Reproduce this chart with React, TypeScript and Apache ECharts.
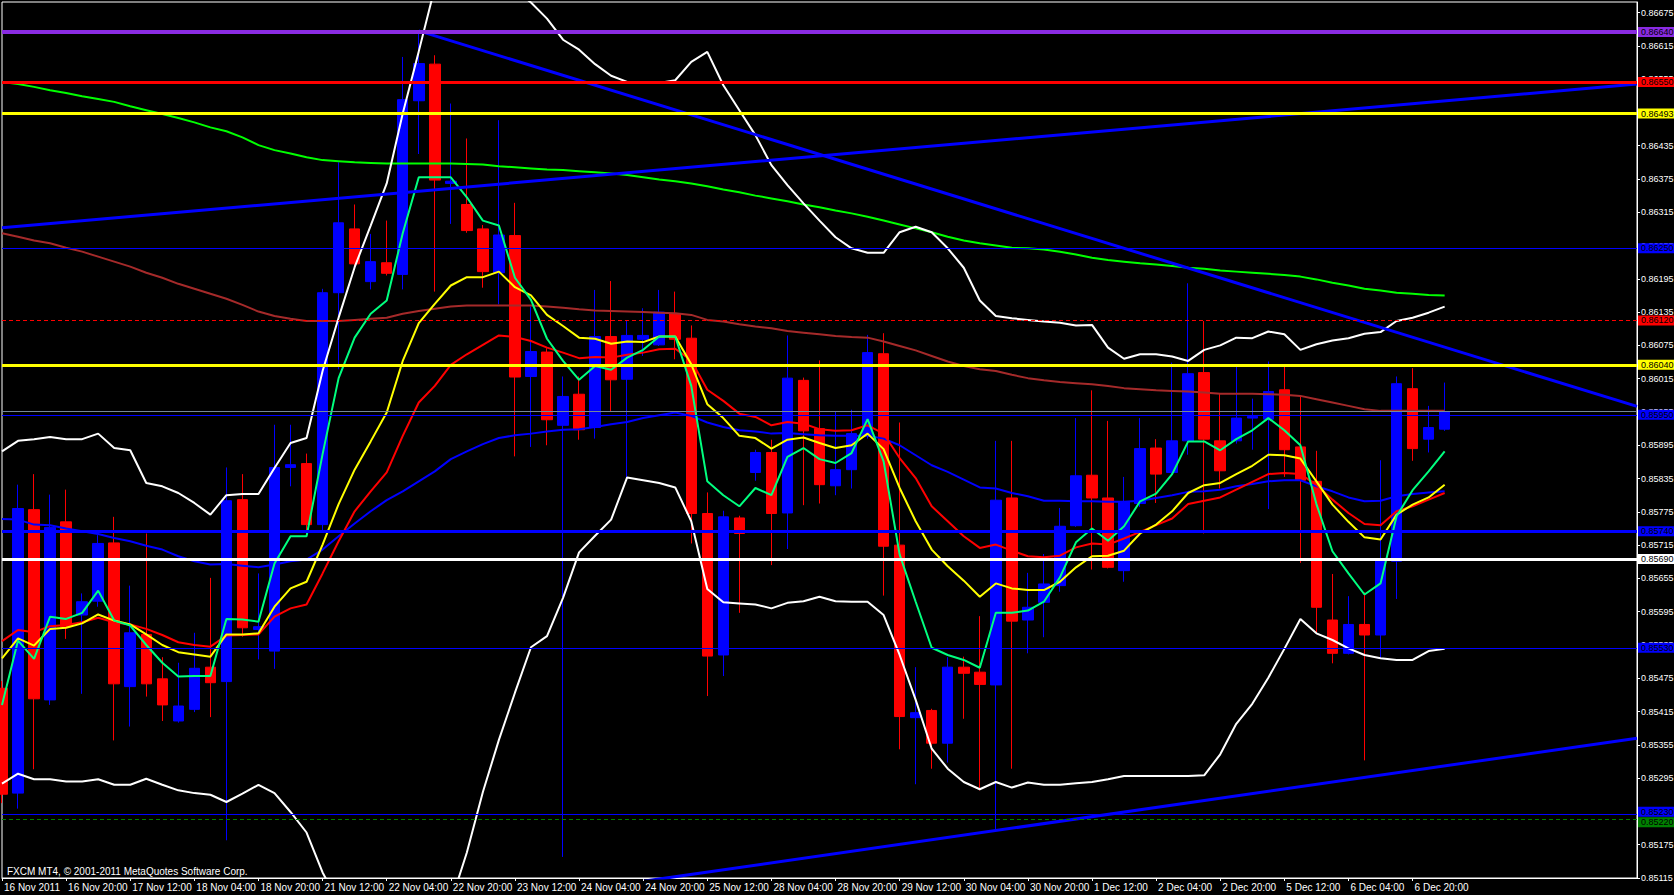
import React, { useEffect, useRef } from 'react';
import * as echarts from 'echarts';

// ---------- data ----------
const xTickLabels = ['16 Nov 2011', '16 Nov 20:00', '17 Nov 12:00', '18 Nov 04:00', '18 Nov 20:00', '21 Nov 12:00', '22 Nov 04:00', '22 Nov 20:00', '23 Nov 12:00', '24 Nov 04:00', '24 Nov 20:00', '25 Nov 12:00', '28 Nov 04:00', '28 Nov 20:00', '29 Nov 12:00', '30 Nov 04:00', '30 Nov 20:00', '1 Dec 12:00', '2 Dec 04:00', '2 Dec 20:00', '5 Dec 12:00', '6 Dec 04:00', '6 Dec 20:00'];
const barsPerLabel = 4;
const totalSlots = 103;

const opens = [0.85457, 0.85268, 0.85779, 0.85436, 0.85757, 0.85589, 0.85614, 0.85719, 0.85460, 0.85554, 0.85474, 0.85398, 0.85419, 0.85495, 0.85469, 0.85797, 0.85563, 0.85524, 0.85855, 0.85862, 0.85752, 0.86170, 0.86285, 0.86190, 0.86224, 0.86203, 0.86516, 0.86582, 0.86367, 0.86329, 0.86285, 0.86206, 0.86273, 0.86019, 0.86063, 0.85931, 0.85987, 0.85927, 0.86091, 0.86014, 0.86086, 0.86076, 0.86132, 0.86088, 0.85772, 0.85517, 0.85764, 0.85846, 0.85882, 0.85773, 0.86012, 0.85925, 0.85822, 0.85851, 0.85913, 0.86060, 0.85715, 0.85404, 0.85417, 0.85358, 0.85495, 0.85486, 0.85463, 0.85800, 0.85580, 0.85612, 0.85642, 0.85750, 0.85841, 0.85800, 0.85669, 0.85790, 0.85890, 0.85846, 0.85903, 0.86026, 0.85903, 0.85903, 0.85944, 0.85942, 0.85995, 0.85892, 0.85830, 0.85580, 0.85520, 0.85572, 0.85553, 0.85686, 0.85997, 0.85906, 0.85924];
const closes = [0.85266, 0.85781, 0.85438, 0.85747, 0.85568, 0.85613, 0.85718, 0.85465, 0.85557, 0.85465, 0.85427, 0.85425, 0.85493, 0.85467, 0.85795, 0.85566, 0.85568, 0.85855, 0.85860, 0.85752, 0.86170, 0.86296, 0.86222, 0.86226, 0.86205, 0.86518, 0.86583, 0.86373, 0.86371, 0.86282, 0.86208, 0.86274, 0.86018, 0.86064, 0.85941, 0.85983, 0.85923, 0.86091, 0.86013, 0.86093, 0.86093, 0.86135, 0.86086, 0.85772, 0.85515, 0.85766, 0.85736, 0.85882, 0.85772, 0.86016, 0.85921, 0.85824, 0.85851, 0.85916, 0.86062, 0.85713, 0.85406, 0.85413, 0.85358, 0.85495, 0.85484, 0.85464, 0.85796, 0.85578, 0.85603, 0.85645, 0.85749, 0.85840, 0.85800, 0.85675, 0.85793, 0.85889, 0.85843, 0.85903, 0.86024, 0.85906, 0.85849, 0.85944, 0.85947, 0.85992, 0.85887, 0.85832, 0.85603, 0.85520, 0.85572, 0.85553, 0.85687, 0.86006, 0.85889, 0.85927, 0.85956];
const lows = [0.85250, 0.85240, 0.85311, 0.85427, 0.85546, 0.85447, 0.85604, 0.85363, 0.85388, 0.85442, 0.85398, 0.85395, 0.85414, 0.85405, 0.85183, 0.85550, 0.85509, 0.85492, 0.85821, 0.85732, 0.85740, 0.86032, 0.86218, 0.86176, 0.86201, 0.86176, 0.86420, 0.86172, 0.86294, 0.86278, 0.86179, 0.86149, 0.85875, 0.85892, 0.85895, 0.85153, 0.85905, 0.85907, 0.85956, 0.85836, 0.86056, 0.86074, 0.86050, 0.85718, 0.85443, 0.85479, 0.85593, 0.85831, 0.85679, 0.85708, 0.85787, 0.85790, 0.85805, 0.85817, 0.85907, 0.85624, 0.85347, 0.85284, 0.85312, 0.85323, 0.85402, 0.85273, 0.85202, 0.85312, 0.85520, 0.85549, 0.85631, 0.85748, 0.85671, 0.85673, 0.85649, 0.85784, 0.85791, 0.85842, 0.85878, 0.85736, 0.85817, 0.85898, 0.85887, 0.85780, 0.85838, 0.85683, 0.85558, 0.85502, 0.85518, 0.85327, 0.85510, 0.85618, 0.85867, 0.85882, 0.85921];
const highs = [0.85470, 0.85824, 0.85843, 0.85806, 0.85815, 0.85628, 0.85733, 0.85766, 0.85642, 0.85736, 0.85513, 0.85503, 0.85557, 0.85656, 0.85855, 0.85843, 0.85664, 0.85932, 0.85932, 0.85880, 0.86177, 0.86405, 0.86329, 0.86276, 0.86300, 0.86595, 0.86640, 0.86598, 0.86511, 0.86448, 0.86292, 0.86481, 0.86332, 0.86145, 0.86070, 0.86019, 0.86019, 0.86175, 0.86191, 0.86120, 0.86142, 0.86175, 0.86172, 0.86111, 0.85810, 0.85777, 0.85768, 0.85887, 0.85905, 0.86093, 0.86017, 0.86048, 0.85956, 0.85959, 0.86094, 0.86097, 0.85936, 0.85495, 0.85420, 0.85513, 0.85514, 0.85587, 0.85903, 0.85903, 0.85665, 0.85699, 0.85782, 0.85944, 0.85994, 0.85939, 0.85838, 0.85944, 0.85906, 0.86044, 0.86187, 0.86119, 0.85988, 0.86037, 0.85979, 0.86046, 0.86037, 0.85983, 0.85885, 0.85663, 0.85623, 0.85630, 0.85868, 0.86019, 0.86034, 0.85966, 0.86008];

const maFast = [0.85427, 0.85543, 0.85510, 0.85586, 0.85582, 0.85593, 0.85633, 0.85579, 0.85570, 0.85535, 0.85503, 0.85478, 0.85479, 0.85479, 0.85582, 0.85581, 0.85577, 0.85682, 0.85731, 0.85731, 0.85879, 0.86016, 0.86089, 0.86132, 0.86156, 0.86277, 0.86378, 0.86378, 0.86378, 0.86342, 0.86300, 0.86291, 0.86197, 0.86157, 0.86087, 0.86047, 0.86013, 0.86038, 0.86031, 0.86053, 0.86067, 0.86091, 0.86091, 0.86002, 0.85830, 0.85805, 0.85785, 0.85818, 0.85805, 0.85874, 0.85890, 0.85870, 0.85863, 0.85881, 0.85942, 0.85866, 0.85698, 0.85613, 0.85530, 0.85517, 0.85508, 0.85494, 0.85593, 0.85593, 0.85597, 0.85613, 0.85657, 0.85720, 0.85745, 0.85723, 0.85749, 0.85794, 0.85808, 0.85843, 0.85902, 0.85902, 0.85886, 0.85906, 0.85922, 0.85944, 0.85922, 0.85895, 0.85789, 0.85704, 0.85664, 0.85626, 0.85646, 0.85767, 0.85814, 0.85848, 0.85884];
const maYellow = [0.85511, 0.85547, 0.85534, 0.85564, 0.85566, 0.85574, 0.85590, 0.85579, 0.85572, 0.85554, 0.85535, 0.85522, 0.85518, 0.85514, 0.85554, 0.85554, 0.85556, 0.85604, 0.85637, 0.85649, 0.85716, 0.85789, 0.85851, 0.85902, 0.85954, 0.86047, 0.86115, 0.86150, 0.86183, 0.86198, 0.86198, 0.86208, 0.86180, 0.86165, 0.86130, 0.86110, 0.86089, 0.86087, 0.86078, 0.86082, 0.86081, 0.86091, 0.86091, 0.86041, 0.85969, 0.85944, 0.85912, 0.85908, 0.85889, 0.85905, 0.85909, 0.85899, 0.85890, 0.85895, 0.85916, 0.85888, 0.85818, 0.85758, 0.85707, 0.85677, 0.85651, 0.85622, 0.85646, 0.85637, 0.85634, 0.85634, 0.85649, 0.85675, 0.85695, 0.85696, 0.85705, 0.85736, 0.85752, 0.85776, 0.85809, 0.85823, 0.85827, 0.85843, 0.85858, 0.85878, 0.85877, 0.85871, 0.85830, 0.85788, 0.85757, 0.85729, 0.85725, 0.85770, 0.85788, 0.85801, 0.85824];
const maRed = [0.85542, 0.85562, 0.85558, 0.85569, 0.85571, 0.85576, 0.85584, 0.85576, 0.85572, 0.85564, 0.85553, 0.85540, 0.85535, 0.85532, 0.85552, 0.85553, 0.85554, 0.85586, 0.85601, 0.85608, 0.85664, 0.85722, 0.85776, 0.85812, 0.85846, 0.85912, 0.85972, 0.86002, 0.86040, 0.86059, 0.86076, 0.86093, 0.86090, 0.86083, 0.86071, 0.86062, 0.86052, 0.86054, 0.86053, 0.86058, 0.86062, 0.86068, 0.86069, 0.86048, 0.85995, 0.85975, 0.85952, 0.85946, 0.85931, 0.85937, 0.85934, 0.85924, 0.85921, 0.85922, 0.85931, 0.85916, 0.85872, 0.85836, 0.85785, 0.85758, 0.85731, 0.85710, 0.85716, 0.85705, 0.85695, 0.85693, 0.85696, 0.85711, 0.85718, 0.85716, 0.85727, 0.85739, 0.85751, 0.85763, 0.85789, 0.85795, 0.85801, 0.85815, 0.85829, 0.85843, 0.85845, 0.85843, 0.85824, 0.85797, 0.85773, 0.85753, 0.85751, 0.85776, 0.85785, 0.85797, 0.85809];
const maBlue = [0.85762, 0.85761, 0.85752, 0.85751, 0.85745, 0.85740, 0.85735, 0.85728, 0.85722, 0.85714, 0.85707, 0.85695, 0.85686, 0.85680, 0.85681, 0.85678, 0.85675, 0.85680, 0.85686, 0.85689, 0.85707, 0.85731, 0.85754, 0.85776, 0.85796, 0.85812, 0.85830, 0.85848, 0.85870, 0.85884, 0.85897, 0.85908, 0.85913, 0.85916, 0.85920, 0.85923, 0.85924, 0.85928, 0.85933, 0.85937, 0.85944, 0.85949, 0.85954, 0.85948, 0.85936, 0.85928, 0.85922, 0.85920, 0.85916, 0.85917, 0.85915, 0.85913, 0.85912, 0.85912, 0.85912, 0.85907, 0.85895, 0.85877, 0.85859, 0.85847, 0.85833, 0.85819, 0.85817, 0.85809, 0.85803, 0.85795, 0.85795, 0.85794, 0.85794, 0.85793, 0.85793, 0.85795, 0.85800, 0.85805, 0.85811, 0.85812, 0.85815, 0.85821, 0.85825, 0.85830, 0.85832, 0.85832, 0.85821, 0.85812, 0.85801, 0.85794, 0.85795, 0.85803, 0.85807, 0.85810, 0.85812];
const maBrown = [0.86277, 0.86271, 0.86264, 0.86259, 0.86251, 0.86244, 0.86235, 0.86226, 0.86217, 0.86206, 0.86197, 0.86186, 0.86177, 0.86168, 0.86159, 0.86148, 0.86136, 0.86128, 0.86123, 0.86119, 0.86119, 0.86119, 0.86121, 0.86123, 0.86125, 0.86132, 0.86137, 0.86141, 0.86145, 0.86147, 0.86147, 0.86147, 0.86147, 0.86147, 0.86145, 0.86143, 0.86140, 0.86138, 0.86137, 0.86136, 0.86135, 0.86134, 0.86133, 0.86130, 0.86121, 0.86118, 0.86113, 0.86109, 0.86106, 0.86101, 0.86098, 0.86095, 0.86092, 0.86090, 0.86089, 0.86082, 0.86074, 0.86066, 0.86056, 0.86046, 0.86038, 0.86032, 0.86029, 0.86022, 0.86016, 0.86012, 0.86009, 0.86007, 0.86005, 0.86002, 0.85998, 0.85996, 0.85994, 0.85993, 0.85992, 0.85990, 0.85988, 0.85988, 0.85988, 0.85987, 0.85986, 0.85984, 0.85978, 0.85972, 0.85966, 0.85960, 0.85957, 0.85957, 0.85957, 0.85957, 0.85957];
const maGreen = [0.86550, 0.86546, 0.86541, 0.86535, 0.86530, 0.86524, 0.86519, 0.86514, 0.86506, 0.86499, 0.86492, 0.86485, 0.86477, 0.86468, 0.86461, 0.86450, 0.86436, 0.86427, 0.86421, 0.86414, 0.86409, 0.86407, 0.86405, 0.86404, 0.86403, 0.86403, 0.86403, 0.86403, 0.86403, 0.86402, 0.86401, 0.86398, 0.86396, 0.86394, 0.86392, 0.86391, 0.86389, 0.86387, 0.86385, 0.86382, 0.86378, 0.86374, 0.86371, 0.86367, 0.86362, 0.86356, 0.86351, 0.86345, 0.86340, 0.86335, 0.86329, 0.86324, 0.86318, 0.86313, 0.86307, 0.86300, 0.86293, 0.86286, 0.86279, 0.86271, 0.86264, 0.86259, 0.86255, 0.86251, 0.86250, 0.86248, 0.86244, 0.86239, 0.86233, 0.86229, 0.86226, 0.86223, 0.86221, 0.86218, 0.86215, 0.86213, 0.86210, 0.86208, 0.86206, 0.86204, 0.86202, 0.86199, 0.86194, 0.86188, 0.86183, 0.86177, 0.86174, 0.86170, 0.86168, 0.86166, 0.86165];
const bandUpper = [0.85884, 0.85903, 0.85906, 0.85910, 0.85906, 0.85906, 0.85916, 0.85890, 0.85886, 0.85827, 0.85821, 0.85809, 0.85791, 0.85770, 0.85805, 0.85807, 0.85807, 0.85854, 0.85899, 0.85908, 0.86029, 0.86125, 0.86216, 0.86291, 0.86367, 0.86493, 0.86605, 0.86720, 0.86761, 0.86788, 0.86779, 0.86749, 0.86716, 0.86693, 0.86664, 0.86626, 0.86608, 0.86582, 0.86561, 0.86550, 0.86548, 0.86548, 0.86553, 0.86586, 0.86604, 0.86544, 0.86499, 0.86454, 0.86400, 0.86364, 0.86331, 0.86300, 0.86270, 0.86250, 0.86242, 0.86242, 0.86279, 0.86289, 0.86279, 0.86250, 0.86215, 0.86156, 0.86128, 0.86124, 0.86121, 0.86118, 0.86116, 0.86111, 0.86112, 0.86071, 0.86051, 0.86059, 0.86059, 0.86055, 0.86047, 0.86067, 0.86075, 0.86089, 0.86088, 0.86100, 0.86095, 0.86067, 0.86077, 0.86084, 0.86088, 0.86096, 0.86099, 0.86119, 0.86125, 0.86134, 0.86145];
const bandLower = [0.85285, 0.85303, 0.85293, 0.85293, 0.85289, 0.85289, 0.85293, 0.85283, 0.85283, 0.85294, 0.85283, 0.85273, 0.85268, 0.85265, 0.85252, 0.85267, 0.85283, 0.85268, 0.85234, 0.85197, 0.85125, 0.85071, 0.85017, 0.84962, 0.84926, 0.84908, 0.84926, 0.84980, 0.85071, 0.85161, 0.85270, 0.85364, 0.85449, 0.85531, 0.85551, 0.85620, 0.85702, 0.85732, 0.85761, 0.85837, 0.85832, 0.85827, 0.85819, 0.85758, 0.85636, 0.85612, 0.85610, 0.85608, 0.85601, 0.85611, 0.85614, 0.85622, 0.85614, 0.85613, 0.85613, 0.85589, 0.85517, 0.85436, 0.85348, 0.85312, 0.85288, 0.85275, 0.85288, 0.85278, 0.85287, 0.85283, 0.85283, 0.85286, 0.85288, 0.85293, 0.85299, 0.85299, 0.85299, 0.85299, 0.85299, 0.85300, 0.85338, 0.85393, 0.85429, 0.85476, 0.85528, 0.85582, 0.85556, 0.85544, 0.85529, 0.85517, 0.85511, 0.85508, 0.85508, 0.85524, 0.85528];

const levelPrices = [0.86640, 0.86550, 0.86493, 0.86250, 0.86120, 0.86040, 0.85950, 0.85740, 0.85690, 0.85530, 0.85230, 0.85220];
const bidPrice = 0.85956;
const trendUp = [[0, 0.86287], [102, 0.86546]];
const trendDown = [[26, 0.86642], [102, 0.85965]];
const trendLow = [[40, 0.85109], [102, 0.85367]];

const yMin = 0.85115;
const yMax = 0.86694;
const yStep = 0.0006;

// ---------- styles ----------
const FONT = '"Liberation Sans", Arial, sans-serif';
const levelStyles = [
  { color: '#8A2BE2', width: 4, type: 'solid', dy: 0 },
  { color: '#FF0000', width: 3, type: 'solid', dy: 0 },
  { color: '#FFFF00', width: 3, type: 'solid', dy: 0 },
  { color: '#0000FF', width: 1, type: 'solid', dy: 0 },
  { color: '#FF0000', width: 1, type: [4, 3], dy: 0 },
  { color: '#FFFF00', width: 3, type: 'solid', dy: 0 },
  { color: '#0000FF', width: 1, type: 'solid', dy: 0 },
  { color: '#0000FF', width: 3, type: 'solid', dy: 0 },
  { color: '#FFFFFF', width: 3, type: 'solid', dy: 0 },
  { color: '#0000FF', width: 1, type: 'solid', dy: 0 },
  { color: '#0000FF', width: 1, type: 'solid', dy: -2.5 },
  { color: '#008000', width: 1, type: [4, 3], dy: 2.5 },
];

function lineSeries(name: string, data: number[], color: string, width = 2, z = 3, extra: any = {}) {
  return {
    name, type: 'line', data, symbol: 'none', z, silent: true,
    lineStyle: { color, width }, itemStyle: { color }, ...extra,
  };
}

export default function App() {
  const ref = useRef<HTMLDivElement>(null);

  useEffect(() => {
    document.body.style.margin = '0';
    document.body.style.background = '#000';
    const chart = echarts.init(ref.current!, null, { renderer: 'svg' });
    const categories = Array.from({ length: totalSlots }, (_, i) => String(i));
    const showTick = (idx: number) => idx % barsPerLabel === 0 && idx / barsPerLabel < xTickLabels.length;

    const markData: any[] = [
      { yAxis: bidPrice, lineStyle: { color: '#778899', width: 1, type: 'solid' }, label: { show: false } },
    ];
    levelPrices.forEach((p, i) => {
      const s = levelStyles[i];
      markData.push({
        yAxis: p,
        lineStyle: { color: s.color, width: s.width, type: s.type },
        label: {
          show: true, position: 'end', distance: 1, offset: [0, s.dy],
          formatter: p.toFixed(5),
          backgroundColor: s.color, color: '#000',
          fontSize: 9, fontFamily: FONT, padding: [0, 3, 0, 3], lineHeight: 10,
        },
      });
    });

    const option: any = {
      animation: false,
      backgroundColor: '#000',
      grid: {
        left: 2, right: 37, top: 2, bottom: 17, containLabel: false, outerBoundsMode: 'none',
        show: true, borderColor: '#FFFFFF', borderWidth: 1, backgroundColor: 'transparent',
      },
      xAxis: {
        type: 'category', data: categories, boundaryGap: false,
        axisLine: { show: true, onZero: false, lineStyle: { color: '#FFFFFF', width: 1 } },
        axisTick: { show: true, interval: (i: number) => showTick(i), length: 3, lineStyle: { color: '#FFFFFF' } },
        axisLabel: {
          interval: (i: number) => showTick(i),
          formatter: (_v: string, i: number) => (showTick(i) ? xTickLabels[i / barsPerLabel] : ''),
          color: '#FFFFFF', fontSize: 10, fontFamily: FONT, align: 'left', margin: 4, padding: [0, 0, 0, 2],
        },
        splitLine: { show: false },
      },
      yAxis: {
        type: 'value', position: 'right', min: yMin, max: yMax, interval: yStep,
        axisLine: { show: true, lineStyle: { color: '#FFFFFF', width: 1 } },
        axisTick: { show: true, length: 3, lineStyle: { color: '#FFFFFF' } },
        axisLabel: {
          formatter: (v: number) => v.toFixed(5), color: '#FFFFFF', fontSize: 9, fontFamily: FONT,
          margin: 4, showMaxLabel: false, showMinLabel: true,
        },
        splitLine: { show: false },
      },
      graphic: [
        {
          type: 'text', left: 7, top: 866, z: 10,
          style: { text: 'FXCM MT4, © 2001-2011 MetaQuotes Software Corp.', fill: '#FFFFFF', font: '10px ' + FONT },
        },
      ],
      series: [
        {
          type: 'candlestick', z: 2, barWidth: 11, silent: true,
          data: opens.map((o, i) => [o, closes[i], lows[i], highs[i]]),
          itemStyle: { color: '#0000FF', color0: '#FF0000', borderColor: '#0000FF', borderColor0: '#FF0000', borderWidth: 1 },
        },
        lineSeries('green', maGreen, '#00FF00', 2, 3, {
          markLine: { symbol: ['none', 'none'], silent: true, animation: false, precision: 5, z: 6, data: markData },
        }),
        lineSeries('brown', maBrown, '#A52A2A'),
        lineSeries('blue', maBlue, '#0000FF'),
        lineSeries('red', maRed, '#FF0000'),
        lineSeries('yellow', maYellow, '#FFFF00'),
        lineSeries('fast', maFast, '#00FF7F'),
        lineSeries('upper', bandUpper, '#FFFFFF'),
        lineSeries('lower', bandLower, '#FFFFFF'),
        { type: 'line', data: trendUp, symbol: 'none', z: 5, lineStyle: { color: '#0000FF', width: 3 }, silent: true },
        { type: 'line', data: trendDown, symbol: 'none', z: 5, lineStyle: { color: '#0000FF', width: 3 }, silent: true },
        { type: 'line', data: trendLow, symbol: 'none', z: 5, lineStyle: { color: '#0000FF', width: 3 }, silent: true },
      ],
    };
    chart.setOption(option);
    return () => chart.dispose();
  }, []);

  return <div ref={ref} style={{ width: 1674, height: 895 }} />;
}
